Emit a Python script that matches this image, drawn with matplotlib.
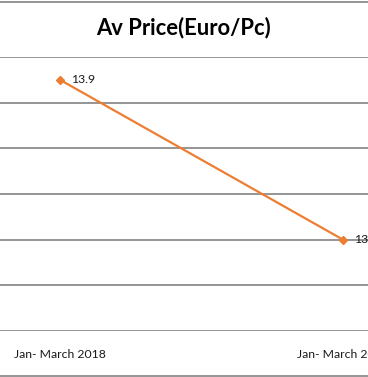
import matplotlib
matplotlib.use("Agg")
import matplotlib.pyplot as plt
from matplotlib.lines import Line2D

categories = ["Jan- March 2018", "Jan- March 2019"]
values = [13.9, 13.2]
label_texts = ["13.9", "13.2"]
yticks = [12.8, 13.0, 13.2, 13.4, 13.6, 13.8, 14.0]

W, H = 368, 377
fig = plt.figure(figsize=(W / 100, H / 100), dpi=100)
fig.patch.set_facecolor("white")

# plot area (extends beyond the cropped figure on both sides)
left_px, right_px = -81.5, 484.5
top_px, bot_px = 57, 331
ax = fig.add_axes([left_px / W, (H - bot_px) / H, (right_px - left_px) / W, (bot_px - top_px) / H])
ax.set_xlim(-0.5, len(categories) - 0.5)
ax.set_ylim(yticks[0], yticks[-1])
ax.set_yticks(yticks)
ax.yaxis.grid(True, color="#8c8c8c", linewidth=1.3)
ax.set_axisbelow(True)
for s in ax.spines.values():
    s.set_visible(False)
ax.tick_params(axis="y", left=False, labelleft=False)
ax.tick_params(axis="x", bottom=False, length=0, pad=13)
x = list(range(len(categories)))
ax.set_xticks(x)
ax.set_xticklabels(categories, fontsize=8.8, family=["Lato", "DejaVu Sans"], color="#1a1a1a")

ax.plot(x, values, color="#ED7D31", linewidth=1.6, marker="D", markersize=4.5, clip_on=False)
for xi, v, t in zip(x, values, label_texts):
    ax.annotate(t, (xi, v), xytext=(8, 0), textcoords="offset points", va="center", ha="left",
                fontsize=8.8, family=["Lato", "DejaVu Sans"], color="#1a1a1a", annotation_clip=False)

fig.text(184 / W, 1 - 28 / H, "Av Price(Euro/Pc)", ha="center", va="center",
         fontsize=15.8, fontweight="bold", family=["Lato", "DejaVu Sans"], color="black")

# chart border lines (top and bottom of chart area)
fig.add_artist(Line2D([0, 1], [1 - 1.5 / H, 1 - 1.5 / H], transform=fig.transFigure, color="#8c8c8c", linewidth=1.3))
fig.add_artist(Line2D([0, 1], [1 - 375.5 / H, 1 - 375.5 / H], transform=fig.transFigure, color="#8c8c8c", linewidth=1.3))

fig.savefig("out.png", dpi=100, facecolor="white")
